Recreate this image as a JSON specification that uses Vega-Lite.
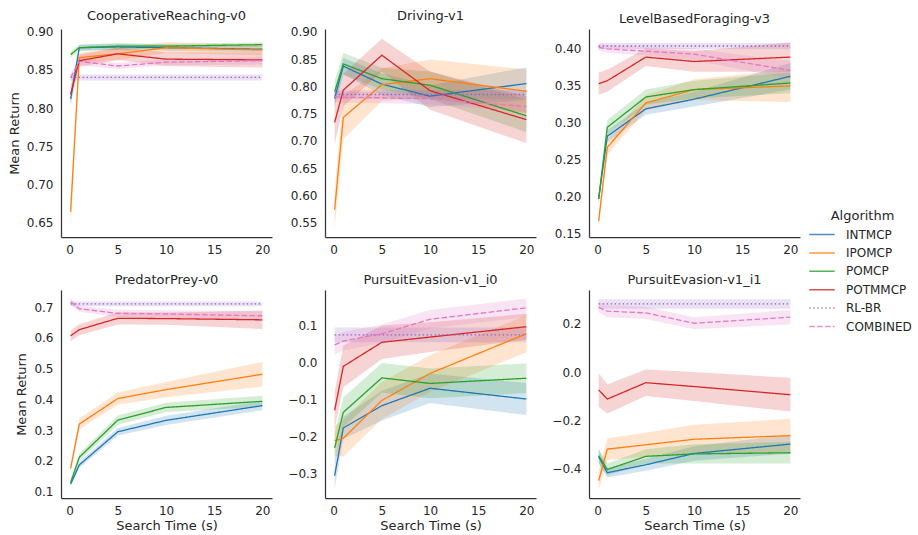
{
  "$schema": "https://vega.github.io/schema/vega-lite/v6.json",
  "padding": {"left": 8, "top": 9, "right": 5, "bottom": 5},
  "bounds": "flush",
  "columns": 3,
  "spacing": {"row": 53, "column": 53},
  "datasets": {
    "d": [
      {"env":"CooperativeReaching-v0","alg":"INTMCP","t":0.1,"m":0.812,"lo":0.802,"hi":0.822},
      {"env":"CooperativeReaching-v0","alg":"INTMCP","t":1,"m":0.879,"lo":0.875,"hi":0.883},
      {"env":"CooperativeReaching-v0","alg":"INTMCP","t":5,"m":0.880,"lo":0.876,"hi":0.884},
      {"env":"CooperativeReaching-v0","alg":"INTMCP","t":10,"m":0.879,"lo":0.875,"hi":0.883},
      {"env":"CooperativeReaching-v0","alg":"INTMCP","t":20,"m":0.877,"lo":0.873,"hi":0.881},
      {"env":"CooperativeReaching-v0","alg":"IPOMCP","t":0.1,"m":0.664,"lo":0.642,"hi":0.686},
      {"env":"CooperativeReaching-v0","alg":"IPOMCP","t":1,"m":0.866,"lo":0.860,"hi":0.872},
      {"env":"CooperativeReaching-v0","alg":"IPOMCP","t":5,"m":0.871,"lo":0.863,"hi":0.879},
      {"env":"CooperativeReaching-v0","alg":"IPOMCP","t":10,"m":0.879,"lo":0.872,"hi":0.886},
      {"env":"CooperativeReaching-v0","alg":"IPOMCP","t":20,"m":0.876,"lo":0.869,"hi":0.883},
      {"env":"CooperativeReaching-v0","alg":"POMCP","t":0.1,"m":0.870,"lo":0.866,"hi":0.874},
      {"env":"CooperativeReaching-v0","alg":"POMCP","t":1,"m":0.879,"lo":0.875,"hi":0.883},
      {"env":"CooperativeReaching-v0","alg":"POMCP","t":5,"m":0.881,"lo":0.877,"hi":0.885},
      {"env":"CooperativeReaching-v0","alg":"POMCP","t":10,"m":0.881,"lo":0.878,"hi":0.884},
      {"env":"CooperativeReaching-v0","alg":"POMCP","t":20,"m":0.883,"lo":0.880,"hi":0.886},
      {"env":"CooperativeReaching-v0","alg":"POTMMCP","t":0.1,"m":0.818,"lo":0.806,"hi":0.830},
      {"env":"CooperativeReaching-v0","alg":"POTMMCP","t":1,"m":0.862,"lo":0.854,"hi":0.870},
      {"env":"CooperativeReaching-v0","alg":"POTMMCP","t":5,"m":0.871,"lo":0.863,"hi":0.879},
      {"env":"CooperativeReaching-v0","alg":"POTMMCP","t":10,"m":0.864,"lo":0.855,"hi":0.873},
      {"env":"CooperativeReaching-v0","alg":"POTMMCP","t":20,"m":0.863,"lo":0.853,"hi":0.873},
      {"env":"CooperativeReaching-v0","alg":"RL-BR","t":0.1,"m":0.840,"lo":0.836,"hi":0.844},
      {"env":"CooperativeReaching-v0","alg":"RL-BR","t":1,"m":0.840,"lo":0.836,"hi":0.844},
      {"env":"CooperativeReaching-v0","alg":"RL-BR","t":5,"m":0.840,"lo":0.836,"hi":0.844},
      {"env":"CooperativeReaching-v0","alg":"RL-BR","t":10,"m":0.840,"lo":0.836,"hi":0.844},
      {"env":"CooperativeReaching-v0","alg":"RL-BR","t":20,"m":0.840,"lo":0.836,"hi":0.844},
      {"env":"CooperativeReaching-v0","alg":"COMBINED","t":0.1,"m":0.840,"lo":0.834,"hi":0.846},
      {"env":"CooperativeReaching-v0","alg":"COMBINED","t":1,"m":0.861,"lo":0.856,"hi":0.866},
      {"env":"CooperativeReaching-v0","alg":"COMBINED","t":5,"m":0.855,"lo":0.851,"hi":0.859},
      {"env":"CooperativeReaching-v0","alg":"COMBINED","t":10,"m":0.860,"lo":0.856,"hi":0.864},
      {"env":"CooperativeReaching-v0","alg":"COMBINED","t":20,"m":0.862,"lo":0.857,"hi":0.867},

      {"env":"Driving-v1","alg":"INTMCP","t":0.1,"m":0.778,"lo":0.763,"hi":0.793},
      {"env":"Driving-v1","alg":"INTMCP","t":1,"m":0.837,"lo":0.822,"hi":0.852},
      {"env":"Driving-v1","alg":"INTMCP","t":5,"m":0.804,"lo":0.784,"hi":0.824},
      {"env":"Driving-v1","alg":"INTMCP","t":10,"m":0.782,"lo":0.762,"hi":0.802},
      {"env":"Driving-v1","alg":"INTMCP","t":20,"m":0.805,"lo":0.775,"hi":0.835},
      {"env":"Driving-v1","alg":"IPOMCP","t":0.1,"m":0.574,"lo":0.539,"hi":0.609},
      {"env":"Driving-v1","alg":"IPOMCP","t":1,"m":0.743,"lo":0.703,"hi":0.783},
      {"env":"Driving-v1","alg":"IPOMCP","t":5,"m":0.803,"lo":0.773,"hi":0.833},
      {"env":"Driving-v1","alg":"IPOMCP","t":10,"m":0.814,"lo":0.779,"hi":0.849},
      {"env":"Driving-v1","alg":"IPOMCP","t":20,"m":0.791,"lo":0.751,"hi":0.831},
      {"env":"Driving-v1","alg":"POMCP","t":0.1,"m":0.790,"lo":0.770,"hi":0.810},
      {"env":"Driving-v1","alg":"POMCP","t":1,"m":0.841,"lo":0.821,"hi":0.861},
      {"env":"Driving-v1","alg":"POMCP","t":5,"m":0.814,"lo":0.794,"hi":0.834},
      {"env":"Driving-v1","alg":"POMCP","t":10,"m":0.802,"lo":0.777,"hi":0.827},
      {"env":"Driving-v1","alg":"POMCP","t":20,"m":0.746,"lo":0.716,"hi":0.776},
      {"env":"Driving-v1","alg":"POTMMCP","t":0.1,"m":0.734,"lo":0.694,"hi":0.774},
      {"env":"Driving-v1","alg":"POTMMCP","t":1,"m":0.793,"lo":0.763,"hi":0.823},
      {"env":"Driving-v1","alg":"POTMMCP","t":5,"m":0.857,"lo":0.827,"hi":0.887},
      {"env":"Driving-v1","alg":"POTMMCP","t":10,"m":0.792,"lo":0.757,"hi":0.827},
      {"env":"Driving-v1","alg":"POTMMCP","t":20,"m":0.739,"lo":0.696,"hi":0.782},
      {"env":"Driving-v1","alg":"RL-BR","t":0.1,"m":0.785,"lo":0.777,"hi":0.793},
      {"env":"Driving-v1","alg":"RL-BR","t":1,"m":0.785,"lo":0.777,"hi":0.793},
      {"env":"Driving-v1","alg":"RL-BR","t":5,"m":0.785,"lo":0.777,"hi":0.793},
      {"env":"Driving-v1","alg":"RL-BR","t":10,"m":0.785,"lo":0.777,"hi":0.793},
      {"env":"Driving-v1","alg":"RL-BR","t":20,"m":0.785,"lo":0.777,"hi":0.793},
      {"env":"Driving-v1","alg":"COMBINED","t":0.1,"m":0.781,"lo":0.771,"hi":0.791},
      {"env":"Driving-v1","alg":"COMBINED","t":1,"m":0.780,"lo":0.770,"hi":0.790},
      {"env":"Driving-v1","alg":"COMBINED","t":5,"m":0.779,"lo":0.769,"hi":0.789},
      {"env":"Driving-v1","alg":"COMBINED","t":10,"m":0.777,"lo":0.767,"hi":0.787},
      {"env":"Driving-v1","alg":"COMBINED","t":20,"m":0.763,"lo":0.753,"hi":0.773},

      {"env":"LevelBasedForaging-v3","alg":"INTMCP","t":0.1,"m":0.196,"lo":0.190,"hi":0.202},
      {"env":"LevelBasedForaging-v3","alg":"INTMCP","t":1,"m":0.281,"lo":0.273,"hi":0.289},
      {"env":"LevelBasedForaging-v3","alg":"INTMCP","t":5,"m":0.318,"lo":0.310,"hi":0.326},
      {"env":"LevelBasedForaging-v3","alg":"INTMCP","t":10,"m":0.331,"lo":0.321,"hi":0.341},
      {"env":"LevelBasedForaging-v3","alg":"INTMCP","t":20,"m":0.362,"lo":0.344,"hi":0.380},
      {"env":"LevelBasedForaging-v3","alg":"IPOMCP","t":0.1,"m":0.166,"lo":0.158,"hi":0.174},
      {"env":"LevelBasedForaging-v3","alg":"IPOMCP","t":1,"m":0.266,"lo":0.256,"hi":0.276},
      {"env":"LevelBasedForaging-v3","alg":"IPOMCP","t":5,"m":0.326,"lo":0.316,"hi":0.336},
      {"env":"LevelBasedForaging-v3","alg":"IPOMCP","t":10,"m":0.344,"lo":0.330,"hi":0.358},
      {"env":"LevelBasedForaging-v3","alg":"IPOMCP","t":20,"m":0.349,"lo":0.327,"hi":0.371},
      {"env":"LevelBasedForaging-v3","alg":"POMCP","t":0.1,"m":0.196,"lo":0.190,"hi":0.202},
      {"env":"LevelBasedForaging-v3","alg":"POMCP","t":1,"m":0.293,"lo":0.283,"hi":0.303},
      {"env":"LevelBasedForaging-v3","alg":"POMCP","t":5,"m":0.334,"lo":0.324,"hi":0.344},
      {"env":"LevelBasedForaging-v3","alg":"POMCP","t":10,"m":0.344,"lo":0.332,"hi":0.356},
      {"env":"LevelBasedForaging-v3","alg":"POMCP","t":20,"m":0.353,"lo":0.339,"hi":0.367},
      {"env":"LevelBasedForaging-v3","alg":"POTMMCP","t":0.1,"m":0.352,"lo":0.337,"hi":0.367},
      {"env":"LevelBasedForaging-v3","alg":"POTMMCP","t":1,"m":0.356,"lo":0.341,"hi":0.371},
      {"env":"LevelBasedForaging-v3","alg":"POTMMCP","t":5,"m":0.388,"lo":0.376,"hi":0.400},
      {"env":"LevelBasedForaging-v3","alg":"POTMMCP","t":10,"m":0.382,"lo":0.368,"hi":0.396},
      {"env":"LevelBasedForaging-v3","alg":"POTMMCP","t":20,"m":0.388,"lo":0.368,"hi":0.408},
      {"env":"LevelBasedForaging-v3","alg":"RL-BR","t":0.1,"m":0.403,"lo":0.399,"hi":0.407},
      {"env":"LevelBasedForaging-v3","alg":"RL-BR","t":1,"m":0.403,"lo":0.399,"hi":0.407},
      {"env":"LevelBasedForaging-v3","alg":"RL-BR","t":5,"m":0.403,"lo":0.399,"hi":0.407},
      {"env":"LevelBasedForaging-v3","alg":"RL-BR","t":10,"m":0.403,"lo":0.399,"hi":0.407},
      {"env":"LevelBasedForaging-v3","alg":"RL-BR","t":20,"m":0.403,"lo":0.399,"hi":0.407},
      {"env":"LevelBasedForaging-v3","alg":"COMBINED","t":0.1,"m":0.401,"lo":0.397,"hi":0.405},
      {"env":"LevelBasedForaging-v3","alg":"COMBINED","t":1,"m":0.399,"lo":0.394,"hi":0.404},
      {"env":"LevelBasedForaging-v3","alg":"COMBINED","t":5,"m":0.396,"lo":0.390,"hi":0.402},
      {"env":"LevelBasedForaging-v3","alg":"COMBINED","t":10,"m":0.392,"lo":0.384,"hi":0.400},
      {"env":"LevelBasedForaging-v3","alg":"COMBINED","t":20,"m":0.370,"lo":0.358,"hi":0.382},

      {"env":"PredatorPrey-v0","alg":"INTMCP","t":0.1,"m":0.125,"lo":0.117,"hi":0.133},
      {"env":"PredatorPrey-v0","alg":"INTMCP","t":1,"m":0.187,"lo":0.177,"hi":0.197},
      {"env":"PredatorPrey-v0","alg":"INTMCP","t":5,"m":0.295,"lo":0.283,"hi":0.307},
      {"env":"PredatorPrey-v0","alg":"INTMCP","t":10,"m":0.332,"lo":0.317,"hi":0.347},
      {"env":"PredatorPrey-v0","alg":"INTMCP","t":20,"m":0.380,"lo":0.365,"hi":0.395},
      {"env":"PredatorPrey-v0","alg":"IPOMCP","t":0.1,"m":0.176,"lo":0.166,"hi":0.186},
      {"env":"PredatorPrey-v0","alg":"IPOMCP","t":1,"m":0.320,"lo":0.302,"hi":0.338},
      {"env":"PredatorPrey-v0","alg":"IPOMCP","t":5,"m":0.403,"lo":0.383,"hi":0.423},
      {"env":"PredatorPrey-v0","alg":"IPOMCP","t":10,"m":0.432,"lo":0.407,"hi":0.457},
      {"env":"PredatorPrey-v0","alg":"IPOMCP","t":20,"m":0.482,"lo":0.442,"hi":0.522},
      {"env":"PredatorPrey-v0","alg":"POMCP","t":0.1,"m":0.130,"lo":0.122,"hi":0.138},
      {"env":"PredatorPrey-v0","alg":"POMCP","t":1,"m":0.212,"lo":0.200,"hi":0.224},
      {"env":"PredatorPrey-v0","alg":"POMCP","t":5,"m":0.333,"lo":0.318,"hi":0.348},
      {"env":"PredatorPrey-v0","alg":"POMCP","t":10,"m":0.374,"lo":0.359,"hi":0.389},
      {"env":"PredatorPrey-v0","alg":"POMCP","t":20,"m":0.394,"lo":0.376,"hi":0.412},
      {"env":"PredatorPrey-v0","alg":"POTMMCP","t":0.1,"m":0.607,"lo":0.589,"hi":0.625},
      {"env":"PredatorPrey-v0","alg":"POTMMCP","t":1,"m":0.627,"lo":0.609,"hi":0.645},
      {"env":"PredatorPrey-v0","alg":"POTMMCP","t":5,"m":0.664,"lo":0.644,"hi":0.684},
      {"env":"PredatorPrey-v0","alg":"POTMMCP","t":10,"m":0.663,"lo":0.643,"hi":0.683},
      {"env":"PredatorPrey-v0","alg":"POTMMCP","t":20,"m":0.659,"lo":0.629,"hi":0.689},
      {"env":"PredatorPrey-v0","alg":"RL-BR","t":0.1,"m":0.711,"lo":0.703,"hi":0.719},
      {"env":"PredatorPrey-v0","alg":"RL-BR","t":1,"m":0.711,"lo":0.703,"hi":0.719},
      {"env":"PredatorPrey-v0","alg":"RL-BR","t":5,"m":0.711,"lo":0.703,"hi":0.719},
      {"env":"PredatorPrey-v0","alg":"RL-BR","t":10,"m":0.711,"lo":0.703,"hi":0.719},
      {"env":"PredatorPrey-v0","alg":"RL-BR","t":20,"m":0.711,"lo":0.703,"hi":0.719},
      {"env":"PredatorPrey-v0","alg":"COMBINED","t":0.1,"m":0.718,"lo":0.708,"hi":0.728},
      {"env":"PredatorPrey-v0","alg":"COMBINED","t":1,"m":0.695,"lo":0.685,"hi":0.705},
      {"env":"PredatorPrey-v0","alg":"COMBINED","t":5,"m":0.680,"lo":0.668,"hi":0.692},
      {"env":"PredatorPrey-v0","alg":"COMBINED","t":10,"m":0.678,"lo":0.666,"hi":0.690},
      {"env":"PredatorPrey-v0","alg":"COMBINED","t":20,"m":0.672,"lo":0.657,"hi":0.687},

      {"env":"PursuitEvasion-v1_i0","alg":"INTMCP","t":0.1,"m":-0.305,"lo":-0.340,"hi":-0.270},
      {"env":"PursuitEvasion-v1_i0","alg":"INTMCP","t":1,"m":-0.176,"lo":-0.206,"hi":-0.146},
      {"env":"PursuitEvasion-v1_i0","alg":"INTMCP","t":5,"m":-0.116,"lo":-0.156,"hi":-0.076},
      {"env":"PursuitEvasion-v1_i0","alg":"INTMCP","t":10,"m":-0.069,"lo":-0.109,"hi":-0.029},
      {"env":"PursuitEvasion-v1_i0","alg":"INTMCP","t":20,"m":-0.098,"lo":-0.141,"hi":-0.055},
      {"env":"PursuitEvasion-v1_i0","alg":"IPOMCP","t":0.1,"m":-0.210,"lo":-0.250,"hi":-0.170},
      {"env":"PursuitEvasion-v1_i0","alg":"IPOMCP","t":1,"m":-0.204,"lo":-0.254,"hi":-0.154},
      {"env":"PursuitEvasion-v1_i0","alg":"IPOMCP","t":5,"m":-0.102,"lo":-0.152,"hi":-0.052},
      {"env":"PursuitEvasion-v1_i0","alg":"IPOMCP","t":10,"m":-0.029,"lo":-0.079,"hi":0.021},
      {"env":"PursuitEvasion-v1_i0","alg":"IPOMCP","t":20,"m":0.078,"lo":0.028,"hi":0.128},
      {"env":"PursuitEvasion-v1_i0","alg":"POMCP","t":0.1,"m":-0.230,"lo":-0.270,"hi":-0.190},
      {"env":"PursuitEvasion-v1_i0","alg":"POMCP","t":1,"m":-0.134,"lo":-0.174,"hi":-0.094},
      {"env":"PursuitEvasion-v1_i0","alg":"POMCP","t":5,"m":-0.041,"lo":-0.081,"hi":-0.001},
      {"env":"PursuitEvasion-v1_i0","alg":"POMCP","t":10,"m":-0.056,"lo":-0.096,"hi":-0.016},
      {"env":"PursuitEvasion-v1_i0","alg":"POMCP","t":20,"m":-0.042,"lo":-0.082,"hi":-0.002},
      {"env":"PursuitEvasion-v1_i0","alg":"POTMMCP","t":0.1,"m":-0.129,"lo":-0.179,"hi":-0.079},
      {"env":"PursuitEvasion-v1_i0","alg":"POTMMCP","t":1,"m":-0.010,"lo":-0.066,"hi":0.046},
      {"env":"PursuitEvasion-v1_i0","alg":"POTMMCP","t":5,"m":0.055,"lo":0.010,"hi":0.100},
      {"env":"PursuitEvasion-v1_i0","alg":"POTMMCP","t":10,"m":0.069,"lo":0.029,"hi":0.109},
      {"env":"PursuitEvasion-v1_i0","alg":"POTMMCP","t":20,"m":0.097,"lo":0.062,"hi":0.132},
      {"env":"PursuitEvasion-v1_i0","alg":"RL-BR","t":0.1,"m":0.075,"lo":0.055,"hi":0.095},
      {"env":"PursuitEvasion-v1_i0","alg":"RL-BR","t":1,"m":0.075,"lo":0.055,"hi":0.095},
      {"env":"PursuitEvasion-v1_i0","alg":"RL-BR","t":5,"m":0.075,"lo":0.055,"hi":0.095},
      {"env":"PursuitEvasion-v1_i0","alg":"RL-BR","t":10,"m":0.075,"lo":0.055,"hi":0.095},
      {"env":"PursuitEvasion-v1_i0","alg":"RL-BR","t":20,"m":0.075,"lo":0.055,"hi":0.095},
      {"env":"PursuitEvasion-v1_i0","alg":"COMBINED","t":0.1,"m":0.048,"lo":0.023,"hi":0.073},
      {"env":"PursuitEvasion-v1_i0","alg":"COMBINED","t":1,"m":0.058,"lo":0.033,"hi":0.083},
      {"env":"PursuitEvasion-v1_i0","alg":"COMBINED","t":5,"m":0.078,"lo":0.053,"hi":0.103},
      {"env":"PursuitEvasion-v1_i0","alg":"COMBINED","t":10,"m":0.117,"lo":0.092,"hi":0.142},
      {"env":"PursuitEvasion-v1_i0","alg":"COMBINED","t":20,"m":0.148,"lo":0.123,"hi":0.173},

      {"env":"PursuitEvasion-v1_i1","alg":"INTMCP","t":0.1,"m":-0.351,"lo":-0.381,"hi":-0.321},
      {"env":"PursuitEvasion-v1_i1","alg":"INTMCP","t":1,"m":-0.418,"lo":-0.438,"hi":-0.398},
      {"env":"PursuitEvasion-v1_i1","alg":"INTMCP","t":5,"m":-0.385,"lo":-0.410,"hi":-0.360},
      {"env":"PursuitEvasion-v1_i1","alg":"INTMCP","t":10,"m":-0.338,"lo":-0.368,"hi":-0.308},
      {"env":"PursuitEvasion-v1_i1","alg":"INTMCP","t":20,"m":-0.299,"lo":-0.339,"hi":-0.259},
      {"env":"PursuitEvasion-v1_i1","alg":"IPOMCP","t":0.1,"m":-0.451,"lo":-0.491,"hi":-0.411},
      {"env":"PursuitEvasion-v1_i1","alg":"IPOMCP","t":1,"m":-0.320,"lo":-0.365,"hi":-0.275},
      {"env":"PursuitEvasion-v1_i1","alg":"IPOMCP","t":5,"m":-0.302,"lo":-0.352,"hi":-0.252},
      {"env":"PursuitEvasion-v1_i1","alg":"IPOMCP","t":10,"m":-0.279,"lo":-0.339,"hi":-0.219},
      {"env":"PursuitEvasion-v1_i1","alg":"IPOMCP","t":20,"m":-0.264,"lo":-0.334,"hi":-0.194},
      {"env":"PursuitEvasion-v1_i1","alg":"POMCP","t":0.1,"m":-0.347,"lo":-0.377,"hi":-0.317},
      {"env":"PursuitEvasion-v1_i1","alg":"POMCP","t":1,"m":-0.405,"lo":-0.430,"hi":-0.380},
      {"env":"PursuitEvasion-v1_i1","alg":"POMCP","t":5,"m":-0.350,"lo":-0.380,"hi":-0.320},
      {"env":"PursuitEvasion-v1_i1","alg":"POMCP","t":10,"m":-0.340,"lo":-0.380,"hi":-0.300},
      {"env":"PursuitEvasion-v1_i1","alg":"POMCP","t":20,"m":-0.335,"lo":-0.380,"hi":-0.290},
      {"env":"PursuitEvasion-v1_i1","alg":"POTMMCP","t":0.1,"m":-0.074,"lo":-0.144,"hi":-0.004},
      {"env":"PursuitEvasion-v1_i1","alg":"POTMMCP","t":1,"m":-0.112,"lo":-0.172,"hi":-0.052},
      {"env":"PursuitEvasion-v1_i1","alg":"POTMMCP","t":5,"m":-0.044,"lo":-0.099,"hi":0.011},
      {"env":"PursuitEvasion-v1_i1","alg":"POTMMCP","t":10,"m":-0.060,"lo":-0.120,"hi":0.000},
      {"env":"PursuitEvasion-v1_i1","alg":"POTMMCP","t":20,"m":-0.094,"lo":-0.164,"hi":-0.024},
      {"env":"PursuitEvasion-v1_i1","alg":"RL-BR","t":0.1,"m":0.283,"lo":0.263,"hi":0.303},
      {"env":"PursuitEvasion-v1_i1","alg":"RL-BR","t":1,"m":0.283,"lo":0.263,"hi":0.303},
      {"env":"PursuitEvasion-v1_i1","alg":"RL-BR","t":5,"m":0.283,"lo":0.263,"hi":0.303},
      {"env":"PursuitEvasion-v1_i1","alg":"RL-BR","t":10,"m":0.283,"lo":0.263,"hi":0.303},
      {"env":"PursuitEvasion-v1_i1","alg":"RL-BR","t":20,"m":0.283,"lo":0.263,"hi":0.303},
      {"env":"PursuitEvasion-v1_i1","alg":"COMBINED","t":0.1,"m":0.269,"lo":0.249,"hi":0.289},
      {"env":"PursuitEvasion-v1_i1","alg":"COMBINED","t":1,"m":0.253,"lo":0.228,"hi":0.278},
      {"env":"PursuitEvasion-v1_i1","alg":"COMBINED","t":5,"m":0.246,"lo":0.221,"hi":0.271},
      {"env":"PursuitEvasion-v1_i1","alg":"COMBINED","t":10,"m":0.203,"lo":0.178,"hi":0.228},
      {"env":"PursuitEvasion-v1_i1","alg":"COMBINED","t":20,"m":0.228,"lo":0.198,"hi":0.258}
    ]
  },
  "data": {"name": "d"},
  "concat": [
    {
      "title": "CooperativeReaching-v0", "width": 211, "height": 208,
      "transform": [{"filter": "datum.env === 'CooperativeReaching-v0'"}],
      "encoding": {"x": {"field": "t", "type": "quantitative", "scale": {"domain": [-0.9, 21], "nice": false}, "axis": {"values": [0, 5, 10, 15, 20], "title": null}}},
      "layer": [
        {"mark": {"type": "area", "opacity": 0.2},
         "encoding": {"y": {"field": "lo", "type": "quantitative", "scale": {"domain": [0.631, 0.9035], "nice": false, "zero": false}, "axis": {"values": [0.65, 0.7, 0.75, 0.8, 0.85, 0.9], "format": ".2f", "title": "Mean Return"}},
                      "y2": {"field": "hi"},
                      "fill": {"field": "alg", "type": "nominal", "title": "Algorithm", "scale": {"domain": ["INTMCP","IPOMCP","POMCP","POTMMCP","RL-BR","COMBINED"], "range": ["#1f77b4","#ff7f0e","#2ca02c","#d62728","#9467bd","#e377c2"]}}}},
        {"mark": {"type": "line", "strokeWidth": 1.3},
         "encoding": {"y": {"field": "m", "type": "quantitative", "scale": {"domain": [0.631, 0.9035], "nice": false, "zero": false}, "axis": {"values": [0.65, 0.7, 0.75, 0.8, 0.85, 0.9], "format": ".2f", "title": "Mean Return"}},
                      "color": {"field": "alg", "type": "nominal", "title": "Algorithm", "scale": {"domain": ["INTMCP","IPOMCP","POMCP","POTMMCP","RL-BR","COMBINED"], "range": ["#1f77b4","#ff7f0e","#2ca02c","#d62728","#9467bd","#e377c2"]},
                                "legend": {"orient": "none", "legendX": 751.5, "legendY": 181}},
                      "strokeDash": {"field": "alg", "type": "nominal", "title": "Algorithm", "scale": {"domain": ["INTMCP","IPOMCP","POMCP","POTMMCP","RL-BR","COMBINED"], "range": [[1,0],[1,0],[1,0],[1,0],[1.5,2.5],[5.5,2.4]]},
                                "legend": {"orient": "none", "legendX": 751.5, "legendY": 181}}}}
      ]
    },
    {
      "title": "Driving-v1", "width": 211, "height": 208,
      "transform": [{"filter": "datum.env === 'Driving-v1'"}],
      "encoding": {"x": {"field": "t", "type": "quantitative", "scale": {"domain": [-0.9, 21], "nice": false}, "axis": {"values": [0, 5, 10, 15, 20], "title": null}}},
      "layer": [
        {"mark": {"type": "area", "opacity": 0.2},
         "encoding": {"y": {"field": "lo", "type": "quantitative", "scale": {"domain": [0.524, 0.905], "nice": false, "zero": false}, "axis": {"values": [0.55, 0.6, 0.65, 0.7, 0.75, 0.8, 0.85, 0.9], "format": ".2f", "title": null}},
                      "y2": {"field": "hi"},
                      "fill": {"field": "alg", "type": "nominal", "title": "Algorithm"}}},
        {"mark": {"type": "line", "strokeWidth": 1.3},
         "encoding": {"y": {"field": "m", "type": "quantitative", "scale": {"domain": [0.524, 0.905], "nice": false, "zero": false}, "axis": {"values": [0.55, 0.6, 0.65, 0.7, 0.75, 0.8, 0.85, 0.9], "format": ".2f", "title": null}},
                      "color": {"field": "alg", "type": "nominal", "title": "Algorithm"},
                      "strokeDash": {"field": "alg", "type": "nominal", "title": "Algorithm"}}}
      ]
    },
    {
      "title": "LevelBasedForaging-v3", "width": 211, "height": 208,
      "transform": [{"filter": "datum.env === 'LevelBasedForaging-v3'"}],
      "encoding": {"x": {"field": "t", "type": "quantitative", "scale": {"domain": [-0.9, 21], "nice": false}, "axis": {"values": [0, 5, 10, 15, 20], "title": null}}},
      "layer": [
        {"mark": {"type": "area", "opacity": 0.2},
         "encoding": {"y": {"field": "lo", "type": "quantitative", "scale": {"domain": [0.1446, 0.426], "nice": false, "zero": false}, "axis": {"values": [0.15, 0.2, 0.25, 0.3, 0.35, 0.4], "format": ".2f", "title": null}},
                      "y2": {"field": "hi"},
                      "fill": {"field": "alg", "type": "nominal", "title": "Algorithm"}}},
        {"mark": {"type": "line", "strokeWidth": 1.3},
         "encoding": {"y": {"field": "m", "type": "quantitative", "scale": {"domain": [0.1446, 0.426], "nice": false, "zero": false}, "axis": {"values": [0.15, 0.2, 0.25, 0.3, 0.35, 0.4], "format": ".2f", "title": null}},
                      "color": {"field": "alg", "type": "nominal", "title": "Algorithm"},
                      "strokeDash": {"field": "alg", "type": "nominal", "title": "Algorithm"}}}
      ]
    },
    {
      "title": "PredatorPrey-v0", "width": 211, "height": 208,
      "transform": [{"filter": "datum.env === 'PredatorPrey-v0'"}],
      "encoding": {"x": {"field": "t", "type": "quantitative", "scale": {"domain": [-0.9, 21], "nice": false}, "axis": {"values": [0, 5, 10, 15, 20], "title": "Search Time (s)"}}},
      "layer": [
        {"mark": {"type": "area", "opacity": 0.2},
         "encoding": {"y": {"field": "lo", "type": "quantitative", "scale": {"domain": [0.0795, 0.756], "nice": false, "zero": false}, "axis": {"values": [0.1, 0.2, 0.3, 0.4, 0.5, 0.6, 0.7], "format": ".1f", "title": "Mean Return"}},
                      "y2": {"field": "hi"},
                      "fill": {"field": "alg", "type": "nominal", "title": "Algorithm"}}},
        {"mark": {"type": "line", "strokeWidth": 1.3},
         "encoding": {"y": {"field": "m", "type": "quantitative", "scale": {"domain": [0.0795, 0.756], "nice": false, "zero": false}, "axis": {"values": [0.1, 0.2, 0.3, 0.4, 0.5, 0.6, 0.7], "format": ".1f", "title": "Mean Return"}},
                      "color": {"field": "alg", "type": "nominal", "title": "Algorithm"},
                      "strokeDash": {"field": "alg", "type": "nominal", "title": "Algorithm"}}}
      ]
    },
    {
      "title": "PursuitEvasion-v1_i0", "width": 211, "height": 208,
      "transform": [{"filter": "datum.env === 'PursuitEvasion-v1_i0'"}],
      "encoding": {"x": {"field": "t", "type": "quantitative", "scale": {"domain": [-0.9, 21], "nice": false}, "axis": {"values": [0, 5, 10, 15, 20], "title": "Search Time (s)"}}},
      "layer": [
        {"mark": {"type": "area", "opacity": 0.2},
         "encoding": {"y": {"field": "lo", "type": "quantitative", "scale": {"domain": [-0.365, 0.196], "nice": false, "zero": false}, "axis": {"values": [-0.3, -0.2, -0.1, 0, 0.1], "format": ".1f", "title": null}},
                      "y2": {"field": "hi"},
                      "fill": {"field": "alg", "type": "nominal", "title": "Algorithm"}}},
        {"mark": {"type": "line", "strokeWidth": 1.3},
         "encoding": {"y": {"field": "m", "type": "quantitative", "scale": {"domain": [-0.365, 0.196], "nice": false, "zero": false}, "axis": {"values": [-0.3, -0.2, -0.1, 0, 0.1], "format": ".1f", "title": null}},
                      "color": {"field": "alg", "type": "nominal", "title": "Algorithm"},
                      "strokeDash": {"field": "alg", "type": "nominal", "title": "Algorithm"}}}
      ]
    },
    {
      "title": "PursuitEvasion-v1_i1", "width": 211, "height": 208,
      "transform": [{"filter": "datum.env === 'PursuitEvasion-v1_i1'"}],
      "encoding": {"x": {"field": "t", "type": "quantitative", "scale": {"domain": [-0.9, 21], "nice": false}, "axis": {"values": [0, 5, 10, 15, 20], "title": "Search Time (s)"}}},
      "layer": [
        {"mark": {"type": "area", "opacity": 0.2},
         "encoding": {"y": {"field": "lo", "type": "quantitative", "scale": {"domain": [-0.523, 0.341], "nice": false, "zero": false}, "axis": {"values": [-0.4, -0.2, 0, 0.2], "format": ".1f", "title": null}},
                      "y2": {"field": "hi"},
                      "fill": {"field": "alg", "type": "nominal", "title": "Algorithm"}}},
        {"mark": {"type": "line", "strokeWidth": 1.3},
         "encoding": {"y": {"field": "m", "type": "quantitative", "scale": {"domain": [-0.523, 0.341], "nice": false, "zero": false}, "axis": {"values": [-0.4, -0.2, 0, 0.2], "format": ".1f", "title": null}},
                      "color": {"field": "alg", "type": "nominal", "title": "Algorithm"},
                      "strokeDash": {"field": "alg", "type": "nominal", "title": "Algorithm"}}}
      ]
    }
  ],
  "config": {
    "view": {"stroke": null},
    "font": "DejaVu Sans",
    "axis": {"labelFont": "DejaVu Sans", "labelFontSize": 12, "labelColor": "#262626", "titleFont": "DejaVu Sans", "titleFontSize": 13, "titleFontWeight": "normal", "titleColor": "#262626", "domainColor": "#333333", "domainWidth": 1.25, "ticks": false, "grid": false, "labelPadding": 8},
    "axisX": {"labelPadding": 7, "titlePadding": 3},
    "axisY": {"titlePadding": 5},
    "title": {"font": "DejaVu Sans", "fontSize": 13, "fontWeight": "normal", "color": "#262626", "offset": 3},
    "legend": {"padding": 0, "titleAnchor": "middle", "symbolType": "M-1.5,0H1.5", "symbolSize": 289, "symbolStrokeWidth": 1.5, "symbolOpacity": 0.8, "labelOffset": 14.5, "rowPadding": 2.4, "titleFont": "DejaVu Sans", "titleFontSize": 13, "titleFontWeight": "normal", "titleColor": "#262626", "labelFont": "DejaVu Sans", "labelFontSize": 12, "labelColor": "#262626", "titlePadding": 2}
  }
}
